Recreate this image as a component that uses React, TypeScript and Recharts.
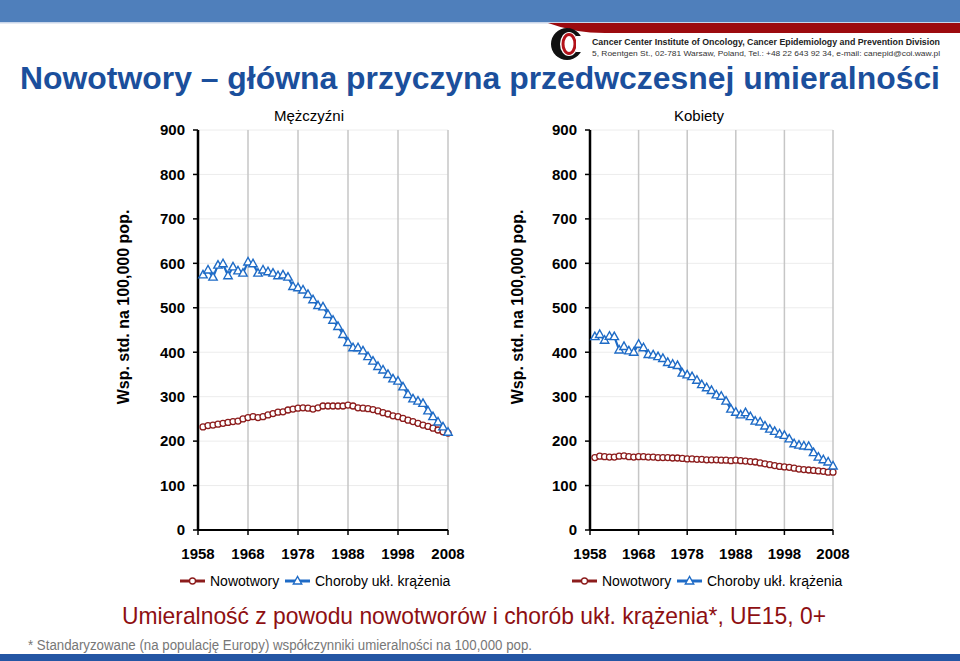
import { LineChart, Line, XAxis, YAxis, CartesianGrid } from 'recharts';

const YEARS = [
  1959, 1960, 1961, 1962, 1963, 1964, 1965, 1966, 1967, 1968,
  1969, 1970, 1971, 1972, 1973, 1974, 1975, 1976, 1977, 1978,
  1979, 1980, 1981, 1982, 1983, 1984, 1985, 1986, 1987, 1988,
  1989, 1990, 1991, 1992, 1993, 1994, 1995, 1996, 1997, 1998,
  1999, 2000, 2001, 2002, 2003, 2004, 2005, 2006, 2007, 2008,
];

// Mężczyźni
const MEN_CANCER = [
  232, 235, 236, 238, 240, 242, 244, 245, 250, 253,
  255, 253, 255, 259, 262, 265, 266, 270, 272, 274,
  275, 274, 272, 275, 279, 279, 279, 279, 279, 281,
  279, 275, 274, 273, 271, 268, 264, 261, 257, 255,
  251, 247, 244, 240, 236, 233, 229, 225, 221, 218,
];
const MEN_CVD = [
  574, 585, 569, 596, 599, 572, 592, 583, 578, 603,
  599, 578, 585, 581, 578, 572, 574, 569, 548, 545,
  540, 530, 518, 505, 502, 485, 472, 458, 440, 422,
  410, 410, 403, 390, 380, 368, 360, 350, 340, 335,
  322, 305, 295, 290, 285, 268, 255, 243, 232, 220,
];

// Kobiety
const WOMEN_CANCER = [
  163, 166, 165, 164, 164, 166, 167, 165, 164, 165,
  165, 164, 164, 163, 163, 163, 162, 162, 161, 160,
  160, 159, 159, 158, 158, 158, 157, 157, 156, 157,
  156, 155, 154, 153, 151, 149, 147, 145, 143, 142,
  141, 139, 137, 136, 135, 134, 133, 132, 130, 130,
];
const WOMEN_CVD = [
  435, 440, 427, 436, 435, 405, 413, 403, 400, 418,
  410, 395, 394, 390, 386, 377, 373, 370, 353, 349,
  345, 337, 327, 320, 314, 304, 301, 290, 272, 265,
  259, 264, 255, 245, 243, 234, 227, 222, 216, 213,
  205, 194, 191, 189, 188, 174, 164, 158, 153, 144,
];

const X_TICKS = [1958, 1968, 1978, 1988, 1998, 2008];
const Y_TICKS = [0, 100, 200, 300, 400, 500, 600, 700, 800, 900];

const RED = '#8C1C1C';
const BLUE = '#1E6BC6';
const FONT = '"Liberation Sans", Arial, sans-serif';
const NARROW = '"Liberation Sans Narrow", "Liberation Sans", Arial, sans-serif';

const CircleDot = (props: any) => {
  const { cx, cy, index } = props;
  if (cx == null || cy == null) return null;
  return <circle key={`c-${index}`} cx={cx} cy={cy} r={3} fill="#fff" stroke={RED} strokeWidth={1.3} />;
};

const TriangleDot = (props: any) => {
  const { cx, cy, index } = props;
  if (cx == null || cy == null) return null;
  return (
    <polygon
      key={`t-${index}`}
      points={`${cx},${cy - 4.5} ${cx - 4.2},${cy + 3} ${cx + 4.2},${cy + 3}`}
      fill="#fff"
      stroke={BLUE}
      strokeWidth={1.4}
    />
  );
};

function Panel({ cancer, cvd, left, width }: { cancer: number[]; cvd: number[]; left: number; width: number }) {
  const data = YEARS.map((year, i) => ({ year, cancer: cancer[i], cvd: cvd[i] }));
  const tickStyle = { fontSize: 15, fontWeight: 'bold', fill: '#000', fontFamily: FONT };
  return (
    <div style={{ position: 'absolute', left, top: 100 }}>
      <LineChart width={width} height={485} data={data} margin={{ top: 30, right: 20, bottom: 25, left: 0 }}>
        <CartesianGrid horizontal={true} vertical={false} stroke="#ececec" />
        <CartesianGrid horizontal={false} vertical={true} stroke="#c6c6c6" strokeWidth={1.5} />
        <XAxis
          type="number"
          dataKey="year"
          domain={[1958, 2008]}
          ticks={X_TICKS}
          height={30}
          tick={tickStyle}
          tickSize={5}
          tickMargin={13}
          axisLine={{ stroke: '#000', strokeWidth: 2 }}
          tickLine={{ stroke: '#000', strokeWidth: 1.5 }}
          interval={0}
        />
        <YAxis
          type="number"
          domain={[0, 900]}
          ticks={Y_TICKS}
          width={98}
          tick={tickStyle}
          tickSize={5}
          tickMargin={8}
          axisLine={{ stroke: '#000', strokeWidth: 2.5 }}
          tickLine={{ stroke: '#000', strokeWidth: 1.5 }}
          interval={0}
        />
        <Line
          dataKey="cancer"
          stroke={RED}
          strokeWidth={2}
          dot={CircleDot}
          activeDot={false}
          isAnimationActive={false}
        />
        <Line
          dataKey="cvd"
          stroke={BLUE}
          strokeWidth={2.2}
          dot={TriangleDot}
          activeDot={false}
          isAnimationActive={false}
        />
      </LineChart>
    </div>
  );
}

function LegendRow({ x }: { x: number }) {
  const y = 581;
  return (
    <g fontFamily={FONT} fontSize={14} fill="#000">
      <line x1={x} x2={x + 25} y1={y} y2={y} stroke={RED} strokeWidth={3} />
      <circle cx={x + 12.5} cy={y} r={3} fill="#fff" stroke={RED} strokeWidth={1.3} />
      <text x={x + 30} y={y + 5}>Nowotwory</text>
      <line x1={x + 105} x2={x + 130} y1={y} y2={y} stroke={BLUE} strokeWidth={3} />
      <polygon
        points={`${x + 117.5},${y - 4.5} ${x + 113.3},${y + 3} ${x + 121.7},${y + 3}`}
        fill="#fff"
        stroke={BLUE}
        strokeWidth={1.4}
      />
      <text x={x + 135} y={y + 5}>Choroby ukł. krążenia</text>
    </g>
  );
}

export default function App() {
  return (
    <div style={{ position: 'relative', width: 960, height: 661, background: '#fff', overflow: 'hidden', fontFamily: FONT }}>
      <style>{`body{margin:0}`}</style>
      <Panel cancer={MEN_CANCER} cvd={MEN_CVD} left={100} width={368} />
      <Panel cancer={WOMEN_CANCER} cvd={WOMEN_CVD} left={492} width={361} />
      <svg width={960} height={661} style={{ position: 'absolute', left: 0, top: 0, pointerEvents: 'none' }}>
        {/* header */}
        <rect x={0} y={0} width={960} height={22} fill="#4F7FBB" />
        <rect x={0} y={22} width={960} height={1.5} fill="#c9d6ea" />
        <path d="M 548 23 L 960 23 L 960 33 L 605 33 Q 575 33 548 23 Z" fill="#9C0A0E" />
        <circle cx={567} cy={44} r={16} fill="#111" />
        <ellipse cx={569} cy={44} rx={9} ry={12} fill="#fff" />
        <ellipse cx={569} cy={44} rx={6} ry={9.5} fill="none" stroke="#B3121A" strokeWidth={3} />
        <rect x={576} y={36} width={10} height={16} fill="#fff" />
        <text x={592} y={45} fontFamily={NARROW} fontWeight="bold" fontSize={9} textLength={348} lengthAdjust="spacingAndGlyphs" fill="#222">
          Cancer Center Institute of Oncology, Cancer Epidemiology and Prevention Division
        </text>
        <text x={592} y={56} fontFamily={NARROW} fontSize={8} textLength={348} lengthAdjust="spacingAndGlyphs" fill="#333">
          5, Roentgen St., 02-781 Warsaw, Poland, Tel.: +48 22 643 92 34, e-mail: canepid@coi.waw.pl
        </text>
        <text x={20} y={89} fontFamily={NARROW} fontWeight="bold" fontSize={31} textLength={920} lengthAdjust="spacingAndGlyphs" fill="#1B4F9C">
          Nowotwory – główna przyczyna przedwczesnej umieralności
        </text>

        {/* panel titles */}
        <text x={309} y={121} textAnchor="middle" fontFamily={FONT} fontSize={15} fill="#000">Mężczyźni</text>
        <text x={699} y={121} textAnchor="middle" fontFamily={FONT} fontSize={15} fill="#000">Kobiety</text>

        {/* y-axis labels */}
        <text x={123} y={307} transform="rotate(-90 123 307)" textAnchor="middle" dominantBaseline="central" fontFamily={FONT} fontWeight="bold" fontSize={16} fill="#000">
          Wsp. std. na 100,000 pop.
        </text>
        <text x={517} y={307} transform="rotate(-90 517 307)" textAnchor="middle" dominantBaseline="central" fontFamily={FONT} fontWeight="bold" fontSize={16} fill="#000">
          Wsp. std. na 100,000 pop.
        </text>

        <LegendRow x={180} />
        <LegendRow x={572} />

        {/* footer */}
        <text x={122} y={624} fontFamily={NARROW} fontSize={24} textLength={704} lengthAdjust="spacingAndGlyphs" fill="#8E0F12">
          Umieralność z powodu nowotworów i chorób ukł. krążenia*, UE15, 0+
        </text>
        <text x={28} y={650} fontFamily={NARROW} fontSize={14} textLength={504} lengthAdjust="spacingAndGlyphs" fill="#777">
          * Standaryzowane (na populację Europy) współczynniki umieralności na 100,000 pop.
        </text>
        <rect x={0} y={654} width={960} height={7} fill="#2456A4" />
      </svg>
    </div>
  );
}
